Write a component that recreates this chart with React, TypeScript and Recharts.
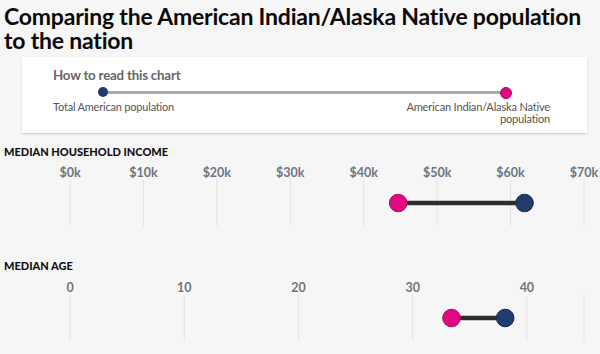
import { CartesianGrid, Scatter, ScatterChart, XAxis, YAxis } from 'recharts';

const metricTitles = ['MEDIAN HOUSEHOLD INCOME', 'MEDIAN AGE'];
const nativeValues = [44.7, 33.4];
const totalValues = [61.9, 38.1];
const incomeTicks = [0, 10, 20, 30, 40, 50, 60, 70];
const ageTicks = [0, 10, 20, 30, 40];
const axisMax = [70, 45];

const PINK = '#e2087f';
const NAVY = '#1f3c6c';
const FONT = 'Lato, "Open Sans", sans-serif';

function Dot(props: any) {
  const { cx, cy, fill, stroke } = props;
  if (cx == null || cy == null) return <g />;
  return <circle cx={cx} cy={cy} r={8.8} fill={fill} stroke={stroke} strokeWidth={1} />;
}

interface DumbbellProps {
  index: number;
  ticks: number[];
  format: (v: number) => string;
  top: number;
}

function Dumbbell({ index, ticks, format, top }: DumbbellProps) {
  const native = [{ x: nativeValues[index], y: 0 }];
  const total = [{ x: totalValues[index], y: 0 }];
  const link = [native[0], total[0]];

  return (
    <div style={{ position: 'absolute', left: 0, top }}>
      <ScatterChart width={600} height={68} margin={{ top: 0, right: 16, bottom: 0, left: 70 }}>
        <CartesianGrid horizontal={false} stroke="#e3e3e3" />
        <XAxis
          type="number"
          dataKey="x"
          orientation="top"
          domain={[0, axisMax[index]]}
          ticks={ticks}
          tickFormatter={format}
          axisLine={false}
          tickLine={false}
          tickSize={0}
          tickMargin={3}
          height={22}
          interval={0}
          tick={{ fill: '#6e7480', fontSize: 12.5, fontWeight: 700, fontFamily: FONT }}
        />
        <YAxis type="number" dataKey="y" domain={[-1, 1]} hide width={0} />
        <Scatter
          data={link}
          line={{ stroke: '#322c29', strokeWidth: 4.5 }}
          shape={() => <g />}
          isAnimationActive={false}
        />
        <Scatter data={native} fill={PINK} stroke="#a50a5e" shape={<Dot />} isAnimationActive={false} />
        <Scatter data={total} fill={NAVY} stroke="#15294b" shape={<Dot />} isAnimationActive={false} />
      </ScatterChart>
    </div>
  );
}

const heading: React.CSSProperties = {
  position: 'absolute',
  left: 4,
  fontSize: 11,
  fontWeight: 900,
  letterSpacing: 0,
  color: '#111',
  lineHeight: '12px',
};

export default function App() {
  return (
    <div
      style={{
        position: 'absolute',
        left: 0,
        top: 0,
        width: 600,
        height: 354,
        background: '#f6f6f6',
        fontFamily: FONT,
        overflow: 'hidden',
      }}
    >
      <div
        style={{
          position: 'absolute',
          left: 4,
          top: 4,
          width: 596,
          fontSize: 23,
          fontWeight: 700,
          lineHeight: '24px',
          color: '#0a0a0a',
          letterSpacing: -0.2,
        }}
      >
        Comparing the American Indian/Alaska Native population to the nation
      </div>

      {/* how to read */}
      <div
        style={{
          position: 'absolute',
          left: 22,
          top: 57,
          width: 565,
          height: 76,
          background: '#fff',
          boxShadow: '0 1px 2px rgba(0,0,0,0.18)',
        }}
      >
        <div style={{ position: 'absolute', left: 31, top: 10, fontSize: 13.3, fontWeight: 700, color: '#666', letterSpacing: -0.2 }}>
          How to read this chart
        </div>
        <div style={{ position: 'absolute', left: 81, top: 33.5, width: 402, height: 3.5, background: '#a9a9a9' }} />
        <div style={{ position: 'absolute', left: 76, top: 30, width: 10, height: 10, borderRadius: 5, background: NAVY }} />
        <div
          style={{ position: 'absolute', left: 478, top: 29.5, width: 10, height: 10, borderRadius: 6, background: PINK, border: '0.5px solid #a50a5e' }}
        />
        <div style={{ position: 'absolute', left: 31, top: 44, fontSize: 11, color: '#555', lineHeight: '12px', letterSpacing: -0.2 }}>
          Total American population
        </div>
        <div
          style={{
            position: 'absolute',
            right: 37,
            top: 44,
            fontSize: 11.1,
            color: '#555',
            lineHeight: '11.5px',
            textAlign: 'right',
            letterSpacing: -0.2,
          }}
        >
          American Indian/Alaska Native
          <br />
          population
        </div>
      </div>

      <div style={{ ...heading, top: 146 }}>{metricTitles[0]}</div>
      <Dumbbell index={0} ticks={incomeTicks} format={(v) => `$${v}k`} top={158} />

      <div style={{ ...heading, top: 260 }}>{metricTitles[1]}</div>
      <Dumbbell index={1} ticks={ageTicks} format={(v) => `${v}`} top={273} />
    </div>
  );
}
